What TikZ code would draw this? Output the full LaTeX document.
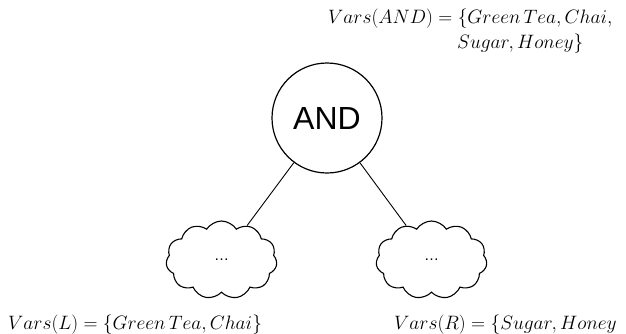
\RequirePackage{fix-cm}
\documentclass[tikz,border=0pt]{standalone}
\usepackage{fontspec}
\newfontfamily\labelsans{Liberation Sans}
\usetikzlibrary{shapes.symbols}
\tikzset{
  opnode/.style={circle, draw, line width=1.2bp, minimum size=110bp, inner sep=0pt,
    font=\labelsans\fontsize{32bp}{36bp}\selectfont},
  subtree/.style={cloud, draw, line width=1.1bp, cloud puffs=11, cloud puff arc=115,
    cloud ignores aspect, minimum width=111bp, minimum height=78bp, inner sep=0pt,
    font=\labelsans\fontsize{15bp}{17bp}\selectfont},
  edge/.style={line width=0.9bp},
  varlabel/.style={inner sep=0pt, anchor=base west, font=\fontsize{19.4bp}{24bp}\selectfont}
}
\begin{document}
\begin{tikzpicture}[x=1bp, y=-1bp]
  \useasboundingbox (0,0) rectangle (626,333);

  % root operator and its two sub-circuits
  \node[opnode] (and) at (327,118) {AND};
  \node[subtree] (lc) at (221.5,260) {\dots};
  \node[subtree] (rc) at (431.5,260) {\dots};

  \draw[edge] (and) -- (lc);
  \draw[edge] (and) -- (rc);

  % variable sets
  \node[varlabel] (vand1) at (328,23) {$Vars(AND) = \{Green\,Tea, Chai,$};
  \node[varlabel] (vand2) at (457,48) {$Sugar, Honey\}$};
  \node[varlabel] (vl) at (8,329) {$Vars(L) = \{Green\,Tea, Chai\}$};
  \node[varlabel] (vr) at (394,329) {$Vars(R) = \{Sugar, Honey$};
\end{tikzpicture}
\end{document}
